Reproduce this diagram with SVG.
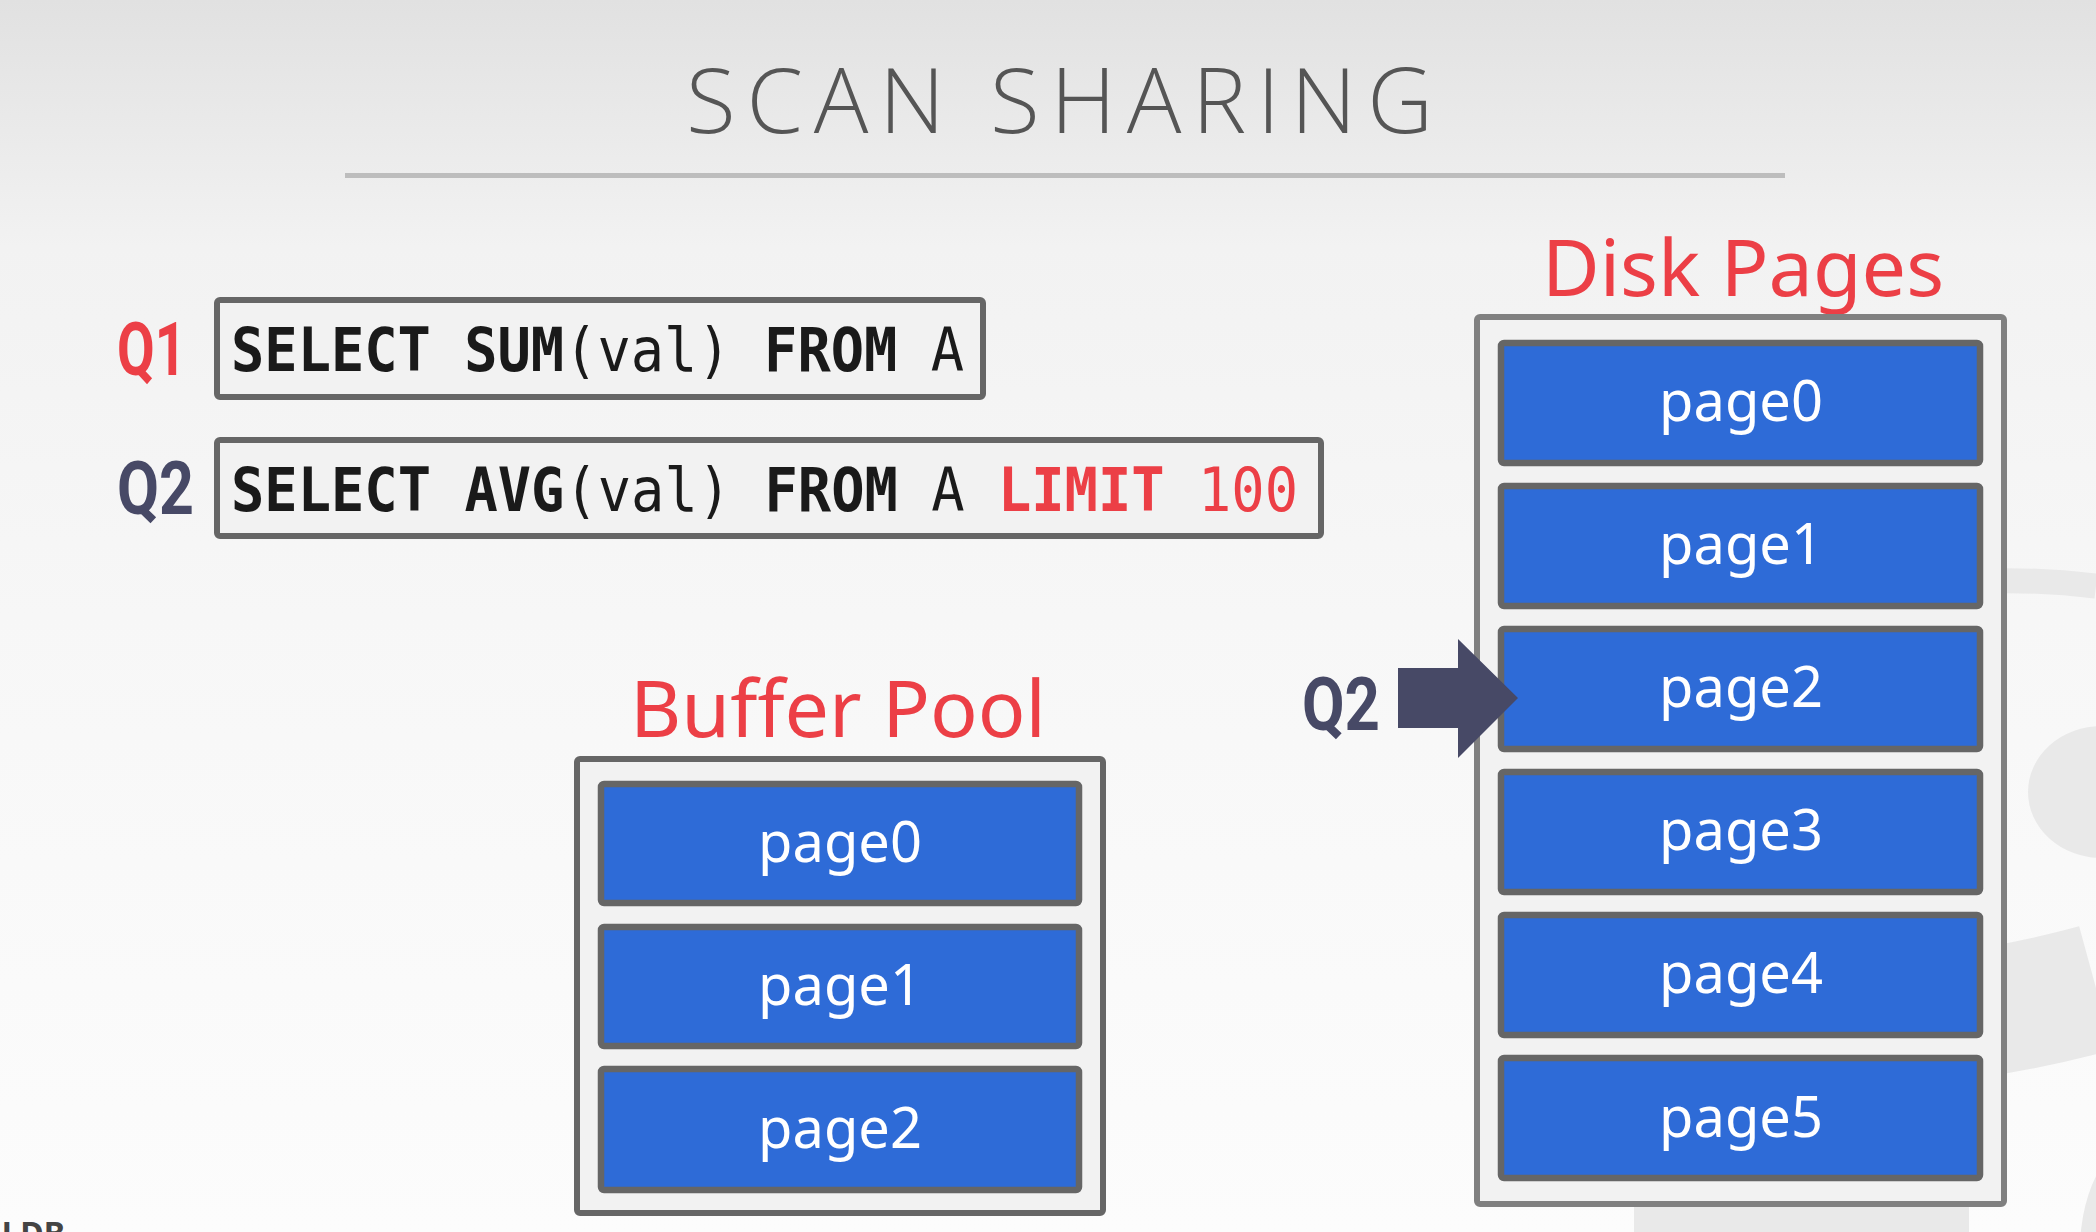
<svg xmlns="http://www.w3.org/2000/svg" width="2096" height="1232" viewBox="0 0 2096 1232">
  <defs>
    <linearGradient id="bg" x1="0" y1="0" x2="0" y2="1">
      <stop offset="0" stop-color="#e1e1e1"/>
      <stop offset="0.2" stop-color="#f2f2f2"/>
      <stop offset="0.5" stop-color="#f7f7f7"/>
      <stop offset="1" stop-color="#fcfcfc"/>
    </linearGradient>
    <style>
      .title { font-family: "Open Sans", "Noto Sans", sans-serif; font-weight: 300; font-size: 91px; fill: #555555; }
      .qlab { font-family: Roboto, "Noto Sans", sans-serif; font-weight: 700; font-size: 74px; }
      .red { fill: #ec3f46; }
      .slate { fill: #474966; }
      .code { font-family: "DejaVu Sans Mono", "Liberation Mono", monospace; font-size: 60px; fill: #1a1a1a; }
      .b { font-weight: 700; }
      .r { font-weight: 400; }
      .qbox { fill: #f2f2f2; stroke: #666666; stroke-width: 6; }
      .pool { fill: #f2f2f2; stroke: #666666; stroke-width: 6; }
      .disk { fill: #f2f2f2; stroke: #808080; stroke-width: 6; }
      .page { fill: #2e6bd7; stroke: #666666; stroke-width: 6.5; }
      .ptxt { font-family: "Noto Sans", "Open Sans", sans-serif; font-size: 56px; fill: #ffffff; text-anchor: middle; }
      .head { font-family: "Noto Sans", "Open Sans", sans-serif; font-size: 79px; fill: #ec3f46; }
      .wm { fill: #e9e9e9; }
      .wms { fill: none; stroke: #e9e9e9; }
    </style>
  </defs>

  <rect x="0" y="0" width="2096" height="1232" fill="url(#bg)"/>

  <!-- faint watermark shapes -->
  <g id="watermark">
    <path class="wms" stroke-width="25" d="M1960 582 Q2030 578 2096 586"/>
    <ellipse class="wm" cx="2102" cy="792" rx="74" ry="66"/>
    <path class="wms" stroke-width="128" d="M1960 1016 Q2030 1006 2096 988"/>
    <ellipse class="wm" cx="2150" cy="1250" rx="70" ry="116"/>
    <rect class="wm" x="1634" y="1100" width="335" height="132"/>
  </g>

  <g id="title">
    <text class="title" x="686" y="133" textLength="747" lengthAdjust="spacing">SCAN SHARING</text>
    <line x1="345" y1="175.5" x2="1785" y2="175.5" stroke="#bdbdbd" stroke-width="5"/>
  </g>

  <g id="q1">
    <text class="qlab red" x="117" y="375" textLength="69" lengthAdjust="spacingAndGlyphs">Q1</text>
    <rect class="qbox" x="217" y="300" width="766" height="97" rx="3"/>
    <text class="code" x="231" y="371" textLength="733" lengthAdjust="spacingAndGlyphs"><tspan class="b">SELECT SUM</tspan><tspan class="r">(val) </tspan><tspan class="b">FROM</tspan><tspan class="r"> A</tspan></text>
  </g>

  <g id="q2">
    <text class="qlab slate" x="117" y="514" textLength="77" lengthAdjust="spacingAndGlyphs">Q2</text>
    <rect class="qbox" x="217" y="440" width="1104" height="96" rx="3"/>
    <text class="code" x="231" y="511" textLength="1067" lengthAdjust="spacingAndGlyphs"><tspan class="b">SELECT AVG</tspan><tspan class="r">(val) </tspan><tspan class="b">FROM</tspan><tspan class="r"> A </tspan><tspan class="b red">LIMIT</tspan><tspan class="r red"> 100</tspan></text>
  </g>

  <g id="buffer-pool">
    <text class="head" x="630" y="737" textLength="416" lengthAdjust="spacingAndGlyphs">Buffer Pool</text>
    <rect class="pool" x="577" y="759" width="526" height="454" rx="3"/>
    <g id="bp-page0">
      <rect class="page" x="601" y="784" width="478" height="119" rx="3"/>
      <text class="ptxt" x="840" y="862">page0</text>
    </g>
    <g id="bp-page1">
      <rect class="page" x="601" y="927" width="478" height="119" rx="3"/>
      <text class="ptxt" x="840" y="1005">page1</text>
    </g>
    <g id="bp-page2">
      <rect class="page" x="601" y="1069" width="478" height="121" rx="3"/>
      <text class="ptxt" x="840" y="1148">page2</text>
    </g>
  </g>

  <g id="disk-pages">
    <text class="head" x="1542" y="296" textLength="402" lengthAdjust="spacingAndGlyphs">Disk Pages</text>
    <rect class="disk" x="1477" y="317" width="527" height="887" rx="3"/>
    <g id="dp-page0">
      <rect class="page" x="1501" y="343" width="479" height="120" rx="3"/>
      <text class="ptxt" x="1741" y="421">page0</text>
    </g>
    <g id="dp-page1">
      <rect class="page" x="1501" y="486" width="479" height="120" rx="3"/>
      <text class="ptxt" x="1741" y="564">page1</text>
    </g>
    <g id="dp-page2">
      <rect class="page" x="1501" y="629" width="479" height="120" rx="3"/>
      <text class="ptxt" x="1741" y="707">page2</text>
    </g>
    <g id="dp-page3">
      <rect class="page" x="1501" y="772" width="479" height="120" rx="3"/>
      <text class="ptxt" x="1741" y="850">page3</text>
    </g>
    <g id="dp-page4">
      <rect class="page" x="1501" y="915" width="479" height="120" rx="3"/>
      <text class="ptxt" x="1741" y="993">page4</text>
    </g>
    <g id="dp-page5">
      <rect class="page" x="1501" y="1058" width="479" height="120" rx="3"/>
      <text class="ptxt" x="1741" y="1137">page5</text>
    </g>
  </g>

  <g id="connectors">
    <g id="q2-cursor">
      <text class="qlab slate" x="1302" y="730" textLength="78" lengthAdjust="spacingAndGlyphs">Q2</text>
      <polygon class="slate" points="1398,668 1458,668 1458,639 1518,698 1458,758 1458,728 1398,728"/>
    </g>
  </g>

  <g id="footer">
    <text x="65" y="1245" text-anchor="end" font-family="Noto Sans, sans-serif" font-weight="700" font-size="32" fill="#444444">CMU DB</text>
  </g>
</svg>
